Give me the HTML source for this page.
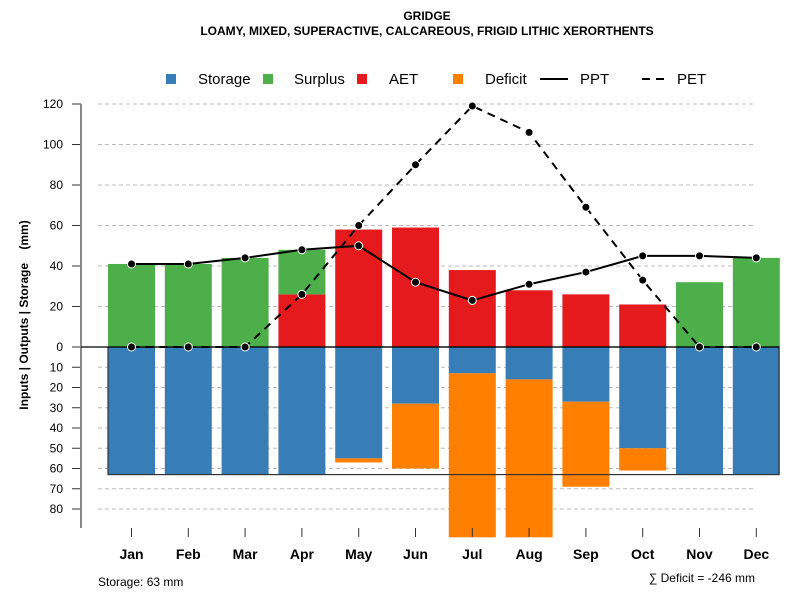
<!DOCTYPE html>
<html><head><meta charset="utf-8"><style>
body{margin:0;background:#fff}
svg text{font-family:"Liberation Sans",sans-serif}
</style></head><body>
<svg id="c" width="800" height="600" xmlns="http://www.w3.org/2000/svg">
<text x="427" y="20" text-anchor="middle" font-size="12" font-weight="bold">GRIDGE</text>
<text x="427" y="35" text-anchor="middle" font-size="12" font-weight="bold">LOAMY, MIXED, SUPERACTIVE, CALCAREOUS, FRIGID LITHIC XERORTHENTS</text>
<g id="legend">
<rect x="166" y="74" width="10" height="10" fill="#377EB8"/>
<text x="198" y="84" font-size="15">Storage</text>
<rect x="263" y="74" width="10" height="10" fill="#4DAF4A"/>
<text x="294" y="84" font-size="15">Surplus</text>
<rect x="357" y="74" width="10" height="10" fill="#E41A1C"/>
<text x="389" y="84" font-size="15">AET</text>
<rect x="453" y="74" width="10" height="10" fill="#FF7F00"/>
<text x="485" y="84" font-size="15">Deficit</text>
<line x1="540" y1="79" x2="568" y2="79" stroke="#000" stroke-width="2"/>
<text x="580" y="84" font-size="15">PPT</text>
<line x1="642" y1="79" x2="670" y2="79" stroke="#000" stroke-width="2" stroke-dasharray="8,6"/>
<text x="677" y="84" font-size="15">PET</text>
</g>
<text transform="translate(28,315) rotate(-90)" text-anchor="middle" font-size="12" font-weight="bold" style="white-space:pre">Inputs | Outputs | Storage    (mm)</text>
<text x="98" y="586" font-size="12">Storage: 63 mm</text>
<text x="755" y="582" text-anchor="end" font-size="12">∑ Deficit = -246 mm</text>
</svg>
<script>
const months=["Jan","Feb","Mar","Apr","May","Jun","Jul","Aug","Sep","Oct","Nov","Dec"];
const ppt=[41,41,44,48,50,32,23,31,37,45,45,44];
const pet=[0,0,0,26,60,90,119,106,69,33,0,0];
const aet=[0,0,0,26,58,59,38,28,26,21,0,0];
const surplus=[41,41,44,22,0,0,0,0,0,0,32,44];
const storage=[63,63,63,63,55,28,13,16,27,50,63,63];
const deficit=[0,0,0,0,2,32,81,78,42,11,0,0];
const storageCap=63;
const posTicks=[0,20,40,60,80,100,120];
const negTicks=[10,20,30,40,50,60,70,80];

const NS="http://www.w3.org/2000/svg";
const svg=document.getElementById('c');
const y0=347,k=2.025;
const yPos=v=>y0-v*k, yNeg=v=>y0+v*k;
const xC=i=>131.5+i*56.8;
const bw=47;
function mk(t,a,p){const e=document.createElementNS(NS,t);for(const q in a)e.setAttribute(q,a[q]);(p||svg).appendChild(e);return e;}
posTicks.forEach(v=>{if(v>0){const l=mk('line',{x1:98,x2:756,y1:yPos(v),y2:yPos(v),stroke:'#bbb','stroke-dasharray':'4,3'});

}
const t=mk('line',{x1:72,x2:81,y1:yPos(v),y2:yPos(v),stroke:'#333'});


const tx=mk('text',{x:63,y:yPos(v)+4,'text-anchor':'end','font-size':12});tx.textContent=v;

});
negTicks.forEach(v=>{const l=mk('line',{x1:98,x2:756,y1:yNeg(v),y2:yNeg(v),stroke:'#bbb','stroke-dasharray':'4,3'});


const t=mk('line',{x1:72,x2:81,y1:yNeg(v),y2:yNeg(v),stroke:'#333'});


const tx=mk('text',{x:63,y:yNeg(v)+4,'text-anchor':'end','font-size':12});tx.textContent=v;

});
const ax=mk('line',{x1:81,x2:81,y1:yPos(120),y2:528,stroke:'#888','stroke-width':2});


months.forEach((m,i)=>{const x=xC(i)-bw/2;
const b1=mk('rect',{x:x,y:yPos(aet[i]),width:bw,height:aet[i]*k,fill:'#E41A1C'});


const b2=mk('rect',{x:x,y:yPos(aet[i]+surplus[i]),width:bw,height:surplus[i]*k,fill:'#4DAF4A'});


const b3=mk('rect',{x:x,y:y0,width:bw,height:storage[i]*k,fill:'#377EB8'});


const b4=mk('rect',{x:x,y:yNeg(storage[i]),width:bw,height:deficit[i]*k,fill:'#FF7F00'});


const t=mk('line',{x1:xC(i),x2:xC(i),y1:528,y2:537,stroke:'#333'});


const tx=mk('text',{x:xC(i),y:559,'text-anchor':'middle','font-size':14,'font-weight':'bold'});tx.textContent=m;

});
const box=mk('rect',{x:108,y:y0,width:671,height:storageCap*k,fill:'none',stroke:'#333','stroke-width':1.2});


const zl=mk('line',{x1:81,x2:779,y1:y0,y2:y0,stroke:'#000','stroke-width':1.2});


function series(arr,name,dash){
const pl=mk('polyline',{points:arr.map((v,i)=>xC(i)+','+yPos(v)).join(' '),fill:'none',stroke:'#000','stroke-width':2,'stroke-dasharray':dash||'none'});


arr.forEach((v,i)=>{const c=mk('circle',{cx:xC(i),cy:yPos(v),r:4,fill:'#000',stroke:'#fff','stroke-width':1});

});}
series(pet,'pet','8,6');
series(ppt,'ppt');
</script>
</body></html>
